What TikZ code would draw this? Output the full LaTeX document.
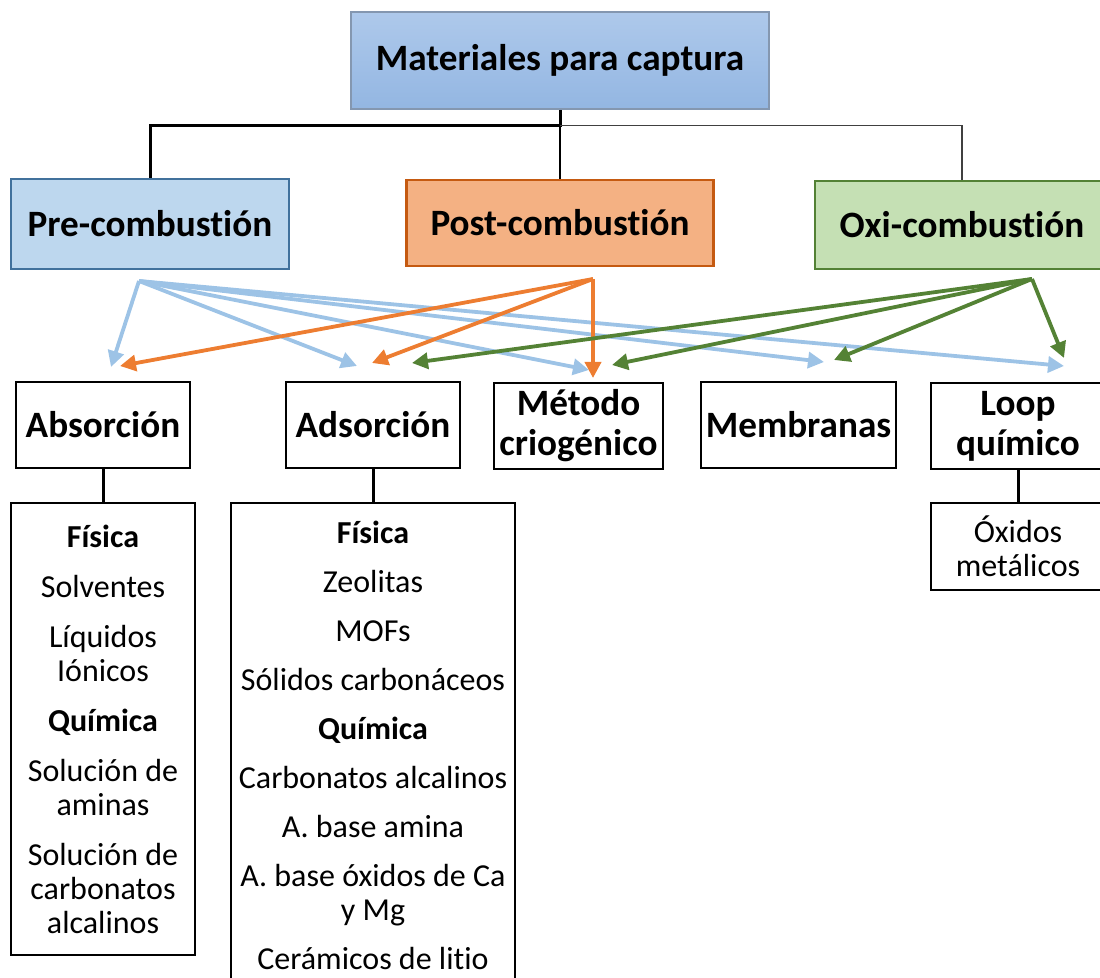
\documentclass[tikz,border=0pt]{standalone}
\usepackage{fontspec}
\setmainfont{Carlito}[Ligatures=NoCommon]
\usetikzlibrary{arrows.meta}
\definecolor{topfillA}{HTML}{AEC9EB}
\definecolor{topfillB}{HTML}{93B6E2}
\definecolor{topline}{HTML}{8497B0}
\definecolor{prefill}{HTML}{BDD7EE}
\definecolor{preline}{HTML}{41719C}
\definecolor{postfill}{HTML}{F4B183}
\definecolor{postline}{HTML}{C55A11}
\definecolor{oxifill}{HTML}{C5E0B4}
\definecolor{oxiline}{HTML}{538135}
\definecolor{prearrow}{HTML}{9DC3E6}
\definecolor{postarrow}{HTML}{ED7D31}
\definecolor{oxiarrow}{HTML}{548235}
\begin{document}
\begin{tikzpicture}[x=0.5pt, y=-0.5pt,
	head/.style = {font=\bfseries\fontsize{18.6}{20}\selectfont, align=center, inner sep=0pt},
	method/.style = {head, draw = black, line width=1.2pt, minimum height=43pt},
	listbox/.style = {draw = black, line width=1.2pt, font=\fontsize{16}{17}\selectfont, align=center, inner sep=0pt},
	stem/.style = {line width=1.5pt},
	flow/.style = {line width=1.9pt, -{Triangle[length=8pt, width=8pt]}}]
	\useasboundingbox (0, 0) rectangle (1100, 978);
	% top level
	\node[head, draw = topline, line width=0.8pt, top color = topfillA, bottom color = topfillB, minimum width=209pt, minimum height=48.5pt] (top) at (560, 60.5) {Materiales para captura};
	\node[head, draw = preline, line width=1.2pt, fill = prefill, minimum width=139pt, minimum height=45pt] (pre) at (150, 224) {Pre-combusti\'on};
	\node[head, draw = postline, line width=1.2pt, fill = postfill, minimum width=153.5pt, minimum height=43pt] (post) at (560, 223) {Post-combusti\'on};
	\node[head, draw = oxiline, line width=1.2pt, fill = oxifill, minimum width=147pt, minimum height=44pt] (oxi) at (962, 225) {Oxi-combusti\'on};
	\draw[line width=1.5pt] (top.south) -- ++(0, 16) -| (pre.north);
	\draw[line width=0.6pt] (top.south) -- (post.north);
	\draw[line width=0.6pt, black!75] (top.south) ++(0, 16) -| (oxi.north);
	% methods
	\node[method, minimum width=87pt] (absorcion) at (103, 425) {Absorci\'on};
	\node[method, minimum width=87pt] (adsorcion) at (373, 425) {Adsorci\'on};
	\node[method, minimum width=84.5pt] (criogenico) at (578.5, 426) {M\'etodo\\criog\'enico};
	\node[method, minimum width=97.5pt] (membranas) at (798.5, 425) {Membranas};
	\node[method, minimum width=87pt] (loop) at (1018, 426) {Loop\\qu\'imico};
	% materials
	\node[listbox, minimum width=92pt, minimum height=226pt] (abslist) at (103, 729) {\textbf{F\'isica}\\[8pt] Solventes\\[8pt] L\'iquidos\\I\'onicos\\[8pt] \textbf{Qu\'imica}\\[8pt] Soluci\'on de\\aminas\\[8pt] Soluci\'on de\\carbonatos\\alcalinos};
	\node[listbox, minimum width=142pt, minimum height=242pt] (adslist) at (373, 745) {\textbf{F\'isica}\\[7.5pt] Zeolitas\\[7.5pt] MOFs\\[7.5pt] S\'olidos carbon\'aceos\\[7.5pt] \textbf{Qu\'imica}\\[7.5pt] Carbonatos alcalinos\\[7.5pt] A. base amina\\[7.5pt] A. base \'oxidos de Ca\\y Mg\\[7.5pt] Cer\'amicos de litio};
	\node[listbox, minimum width=87pt, minimum height=43.5pt] (looplist) at (1018, 546.5) {\'Oxidos\\met\'alicos};
	\draw[stem] (absorcion.south) -- (abslist.north);
	\draw[stem] (adsorcion.south) -- (adslist.north);
	\draw[stem] (loop.south) -- (looplist.north);
	% arrows
	\coordinate (pre-o) at (139, 281);
	\coordinate (post-o) at (593, 279);
	\coordinate (oxi-o) at (1032, 279);
	\foreach \n/\x/\y in {pre-abs/111/367, pre-ads/357/366, pre-met/589/370, pre-mem/824/362, pre-loop/1064/366,
		post-abs/120/366, post-ads/372/363, post-met/593/378,
		oxi-ads/412/363, oxi-met/612/365, oxi-mem/834/360, oxi-loop/1064/358}
		\coordinate (\n) at (\x, \y);
	\foreach \n in {abs, ads, met, mem, loop}{
		\draw[flow, prearrow] (pre-o) -- (pre-\n);}
	\foreach \n in {abs, ads, met}{
		\draw[flow, postarrow] (post-o) -- (post-\n);}
	\foreach \n in {ads, met, mem, loop}{
		\draw[flow, oxiarrow] (oxi-o) -- (oxi-\n);}
\end{tikzpicture}
\end{document}
